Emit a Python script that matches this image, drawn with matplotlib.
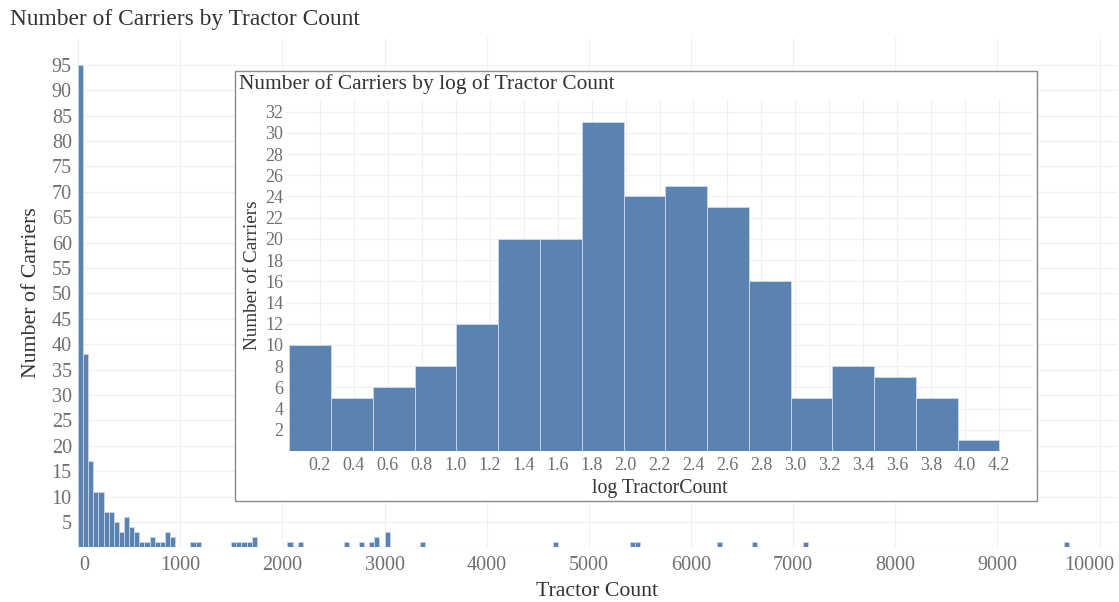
import numpy as np
import matplotlib.pyplot as plt
import matplotlib.transforms as mtransforms
from matplotlib.patches import Rectangle

plt.rcParams['font.family'] = ['Liberation Serif', 'DejaVu Serif']

# Main histogram: lower edge of each non-empty 50-tractor bin and its count
bin_width = 50
bin_start = [0, 50, 100, 150, 200, 250, 300, 350, 400, 450, 500, 550, 600, 650,
             700, 750, 800, 850, 900, 1100, 1150, 1500, 1550, 1600, 1650, 1700,
             2050, 2150, 2600, 2750, 2850, 2900, 3000, 3350, 4650, 5400, 5450,
             6250, 6600, 7100, 9650]
carriers = [95, 38, 17, 11, 11, 7, 7, 5, 3, 6, 4, 3, 1, 1,
            2, 1, 1, 3, 2, 1, 1, 1, 1, 1, 1, 2,
            1, 1, 1, 1, 1, 2, 3, 1, 1, 1, 1,
            1, 1, 1, 1]

# Inset histogram on log10(tractor count)
log_bin_first = 0.02
log_bin_width = 0.246
log_counts = [10, 5, 6, 8, 12, 20, 20, 31, 24, 25, 23, 16, 5, 8, 7, 5, 1]
log_ticks = [0.2, 0.4, 0.6, 0.8, 1.0, 1.2, 1.4, 1.6, 1.8, 2.0, 2.2, 2.4,
             2.6, 2.8, 3.0, 3.2, 3.4, 3.6, 3.8, 4.0, 4.2]

bar_color = '#5a83b1'
edge_color = '#c9d6e6'
grid_color = '#f0f0f0'
tick_color = '#6f6f6f'
text_color = '#333333'

W, H = 1119, 602
fig = plt.figure(figsize=(W / 100, H / 100), dpi=100)


def rect(left, top, right, bottom):
    return [left / W, 1 - bottom / H, (right - left) / W, (bottom - top) / H]


# ---- main chart
ax = fig.add_axes(rect(76, 38, 1118, 547.4))
ax.bar(bin_start, carriers, width=bin_width, align='edge', color=bar_color,
       edgecolor=edge_color, linewidth=0.6, zorder=2)
ax.set_xlim(-20, 10180)
ax.set_ylim(0, 100.3)
ax.set_xticks(np.arange(0, 10001, 1000))
ax.set_yticks(np.arange(5, 96, 5))
ax.grid(True, color=grid_color, linewidth=0.8, zorder=0)
ax.axhline(0, color=grid_color, linewidth=0.8, zorder=0)
for s in ax.spines.values():
    s.set_visible(False)
ax.tick_params(length=0, labelsize=14.5, labelcolor=tick_color)
ax.tick_params(axis='x', pad=6)
ax.tick_params(axis='y', pad=3)
# keep the edge labels inside the view, as the original does
xlabels = ax.get_xticklabels()
xlabels[0].set_transform(xlabels[0].get_transform() +
                         mtransforms.ScaledTranslation(6 / 100, 0, fig.dpi_scale_trans))
xlabels[-1].set_transform(xlabels[-1].get_transform() +
                          mtransforms.ScaledTranslation(-10 / 100, 0, fig.dpi_scale_trans))
ax.set_xlabel('Tractor Count', fontsize=15.7, color=text_color, labelpad=5)
ax.set_ylabel('Number of Carriers', fontsize=15.7, color=text_color, labelpad=8)
fig.text(10 / W, 1 - 20 / H, 'Number of Carriers by Tractor Count',
         fontsize=16.8, color=text_color, va='center', ha='left')

# ---- inset box
box = Rectangle((235 / W, 1 - 500.7 / H), (1036.5 - 235) / W, (500.7 - 71) / H,
                transform=fig.transFigure, facecolor='white',
                edgecolor='#8a8a8a', linewidth=1.0, zorder=5)
fig.patches.append(box)
fig.text(239 / W, 1 - 84 / H, 'Number of Carriers by log of Tractor Count',
         fontsize=15.4, color=text_color, va='center', ha='left', zorder=6)

ins = fig.add_axes(rect(286, 100, 1033, 451))
ins.set_zorder(6)
ins.set_facecolor('white')
edges = log_bin_first + log_bin_width * np.arange(len(log_counts))
ins.bar(edges, log_counts, width=log_bin_width, align='edge', color=bar_color,
        edgecolor=edge_color, linewidth=0.7, zorder=2)
ins.set_xlim(0, 4.40)
ins.set_ylim(0, 33.1)
ins.set_xticks(log_ticks)
ins.set_xticklabels([f'{t:.1f}' for t in log_ticks])
ins.set_yticks(np.arange(2, 33, 2))
ins.grid(True, color=grid_color, linewidth=0.8, zorder=0)
for s in ins.spines.values():
    s.set_visible(False)
ins.tick_params(length=0, labelsize=13, labelcolor=tick_color)
ins.tick_params(axis='x', pad=4)
ins.tick_params(axis='y', pad=2)
ins.set_xlabel('log TractorCount', fontsize=14.2, color=text_color, labelpad=4)
ins.set_ylabel('Number of Carriers', fontsize=13.8, color=text_color, labelpad=3)

fig.savefig('out.png', dpi=100)
